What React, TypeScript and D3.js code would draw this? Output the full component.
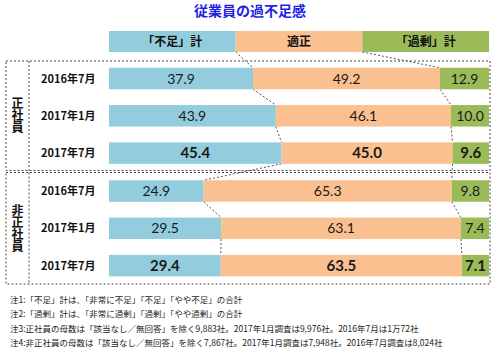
import React from "react";
import * as d3 from "d3";

const title = "従業員の過不足感";
const categories = ["「不足」計", "適正", "「過剰」計"];
const groups = ["正社員", "非正社員"];
const periods = ["2016年7月", "2017年1月", "2017年7月"];
const shortage = [37.9, 43.9, 45.4, 24.9, 29.5, 29.4];
const adequate = [49.2, 46.1, 45.0, 65.3, 63.1, 63.5];
const surplus = [12.9, 10.0, 9.6, 9.8, 7.4, 7.1];
const notes = [
  "注1:「不足」計は、「非常に不足」「不足」「やや不足」の合計",
  "注2:「過剰」計は、「非常に過剰」「過剰」「やや過剰」の合計",
  "注3:正社員の母数は「該当なし／無回答」を除く9,883社。2017年1月調査は9,976社。2016年7月は1万72社",
  "注4:非正社員の母数は「該当なし／無回答」を除く7,867社。2017年1月調査は7,948社。2016年7月調査は8,024社",
];

const colors = ["#93cddd", "#fac090", "#9bbb59"];
const W = 500;
const H = 352;
const numFont = "Lato, 'Open Sans', sans-serif";
const jpFont = "'Noto Sans CJK JP', sans-serif";

export default function App() {
  const x = d3.scaleLinear().domain([0, 100]).range([109, 489]);
  // row centres: two groups of three rows
  const rowY = (i: number) => (i < 3 ? 78.5 + i * 37.3 : 191 + (i - 3) * 37.3);
  const barH = 21.5;

  const rows = shortage.map((s, i) => {
    const vals = [s, adequate[i], surplus[i]];
    let acc = 0;
    const segs = vals.map((v, k) => {
      const seg = { k, x0: acc, x1: acc + v, v };
      acc += v;
      return seg;
    });
    return { i, segs };
  });

  const b1 = (i: number) => shortage[i];
  const b2 = (i: number) => shortage[i] + adequate[i];

  // dashed connectors between consecutive rows
  const connectors: { x1: number; y1: number; x2: number; y2: number }[] = [];
  const headerBottom = 52;
  [1, 2].forEach((k) => {
    connectors.push({
      x1: x((100 / 3) * k),
      y1: headerBottom,
      x2: x(k === 1 ? b1(0) : b2(0)),
      y2: rowY(0) - barH / 2,
    });
  });
  for (let i = 0; i < shortage.length - 1; i++) {
    [b1, b2].forEach((f) => {
      connectors.push({
        x1: x(f(i)),
        y1: rowY(i) + barH / 2,
        x2: x(f(i + 1)),
        y2: rowY(i + 1) - barH / 2,
      });
    });
  }

  const boxes = [
    { y0: 61, y1: 170.5, label: groups[0] },
    { y0: 172.5, y1: 284, label: groups[1] },
  ];

  const hdrW = (x(100) - x(0)) / 3;

  return (
    <svg width={W} height={H} style={{ position: "absolute", left: 0, top: 0 }}>
      <rect width={W} height={H} fill="#fff" />
      <text
        x={250}
        y={16}
        textAnchor="middle"
        fontFamily={jpFont}
        fontWeight="bold"
        fontSize={14}
        fill="#1f1fe6"
      >
        {title}
      </text>

      {categories.map((c, k) => (
        <g key={c}>
          <rect x={x(0) + k * hdrW} y={31} width={hdrW} height={21} fill={colors[k]} />
          <text
            x={x(0) + k * hdrW + hdrW / 2}
            y={46}
            textAnchor="middle"
            fontFamily={jpFont}
            fontWeight="bold"
            fontSize={12}
            fill="#111"
          >
            {c}
          </text>
        </g>
      ))}

      {boxes.map((b) => (
        <g key={b.label}>
          <rect
            x={6}
            y={b.y0}
            width={484}
            height={b.y1 - b.y0}
            fill="none"
            stroke="#444"
            strokeWidth={1}
            strokeDasharray="2,2"
          />
          <line x1={29} x2={29} y1={b.y0} y2={b.y1} stroke="#444" strokeDasharray="2,2" />
          <text
            x={17.5}
            y={(b.y0 + b.y1) / 2}
            textAnchor="middle"
            fontFamily={jpFont}
            fontWeight="bold"
            fontSize={12}
            fill="#111"
            style={{ writingMode: "vertical-rl" as any }}
          >
            {b.label}
          </text>
        </g>
      ))}

      {connectors.map((c, i) => (
        <line
          key={i}
          x1={c.x1}
          y1={c.y1}
          x2={c.x2}
          y2={c.y2}
          stroke="#555"
          strokeWidth={1}
          strokeDasharray="2,2"
        />
      ))}

      {rows.map((r) => {
        const bold = r.i % 3 === 2;
        const cy = rowY(r.i);
        return (
          <g key={r.i}>
            <text
              x={41}
              y={cy + 4}
              fontFamily={jpFont}
              fontWeight="bold"
              fontSize={11}
              fill="#111"
            >
              {periods[r.i % 3]}
            </text>
            {r.segs.map((s) => (
              <g key={s.k}>
                <rect
                  x={x(s.x0)}
                  y={cy - barH / 2}
                  width={x(s.x1) - x(s.x0)}
                  height={barH}
                  fill={colors[s.k]}
                />
                <text
                  x={(x(s.x0) + x(s.x1)) / 2}
                  y={cy + 5}
                  textAnchor="middle"
                  fontFamily={numFont}
                  fontWeight={bold ? "bold" : "normal"}
                  fontSize={bold ? 15 : 14}
                  fill="#1a1a1a"
                >
                  {s.v.toFixed(1)}
                </text>
              </g>
            ))}
          </g>
        );
      })}

      {notes.map((n, i) => (
        <text
          key={i}
          x={10}
          y={303 + i * 14.3}
          fontFamily={jpFont}
          fontSize={8.5}
          fill="#222"
        >
          {n}
        </text>
      ))}
    </svg>
  );
}
